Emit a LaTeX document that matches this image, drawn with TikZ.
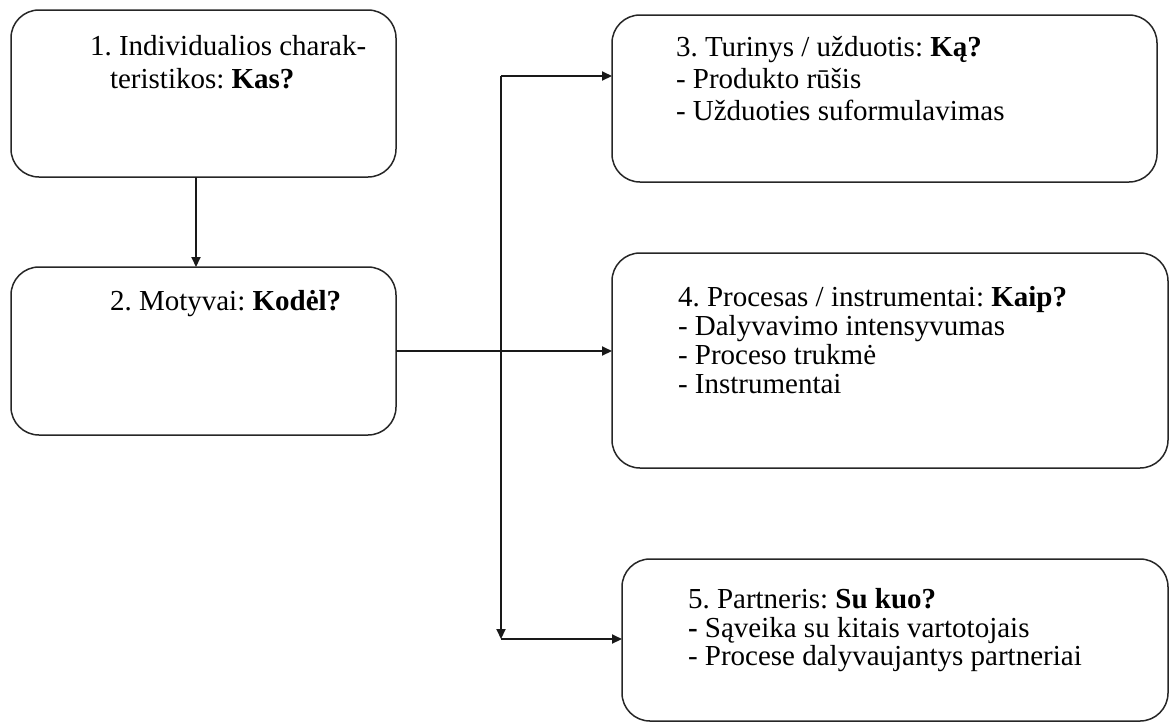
\documentclass[tikz,border=0pt]{standalone}
\usepackage{fontspec}
\setmainfont{Liberation Serif}
\usetikzlibrary{arrows.meta}
\frenchspacing

\begin{document}
\begin{tikzpicture}[x=1pt,y=-1pt,
  box/.style={draw=black!85, line width=1.5pt, rounded corners=28pt,
              inner sep=0pt, outer sep=0pt},
  txt/.style={anchor=base west, inner sep=0pt, outer sep=0pt,
              font=\fontsize{29}{33}\selectfont},
  link/.style={draw=black!90, line width=2pt},
  arr/.style={link, -{Triangle[length=10pt,width=9pt]}}]
  \useasboundingbox (0,0) rectangle (1170,724);

  % boxes
  \node[box, minimum width=385pt, minimum height=167pt] (b1) at (203.5,93.5) {};
  \node[box, minimum width=385pt, minimum height=168pt] (b2) at (203.5,351) {};
  \node[box, minimum width=545pt, minimum height=167pt] (b3) at (884.5,98.5) {};
  \node[box, minimum width=556pt, minimum height=215pt] (b4) at (890,360.5) {};
  \node[box, minimum width=546pt, minimum height=162pt] (b5) at (895,640) {};

  % box texts
  \node[txt] (t1a) at (90,55) {1. Individualios charak-};
  \node[txt] (t1b) at (110,88) {teristikos: \textbf{Kas?}};

  \node[txt] (t2a) at (110,310) {2. Motyvai: \textbf{Kodėl?}};

  \node[txt] (t3a) at (676,56) {3. Turinys / užduotis: \textbf{Ką?}};
  \node[txt] (t3b) at (676,88) {- Produkto rūšis};
  \node[txt] (t3c) at (676,120) {- Užduoties suformulavimas};

  \node[txt] (t4a) at (678,306) {4. Procesas / instrumentai: \textbf{Kaip?}};
  \node[txt] (t4b) at (678,335) {- Dalyvavimo intensyvumas};
  \node[txt] (t4c) at (678,364) {- Proceso trukmė};
  \node[txt] (t4d) at (678,393) {- Instrumentai};

  \node[txt] (t5a) at (688,608) {5. Partneris: \textbf{Su kuo?}};
  \node[txt] (t5b) at (688,637) {\textbf{-} Sąveika su kitais vartotojais};
  \node[txt] (t5c) at (688,665) {- Procese dalyvaujantys partneriai};

  % branching points of the distributor line
  \coordinate (j1) at (501,76);
  \coordinate (j2) at (501,639);

  % connectors
  \draw[arr] ([xshift=-7.5pt]b1.south) -- ([xshift=-7.5pt]b2.north);
  \draw[arr] (b2.east) -- (b2.east -| b4.west);
  \draw[arr] (j1) -- (j2);
  \draw[arr] (j1) -- (j1 -| b3.west);
  \draw[arr] (j2) -- (j2 -| b5.west);
\end{tikzpicture}
\end{document}
